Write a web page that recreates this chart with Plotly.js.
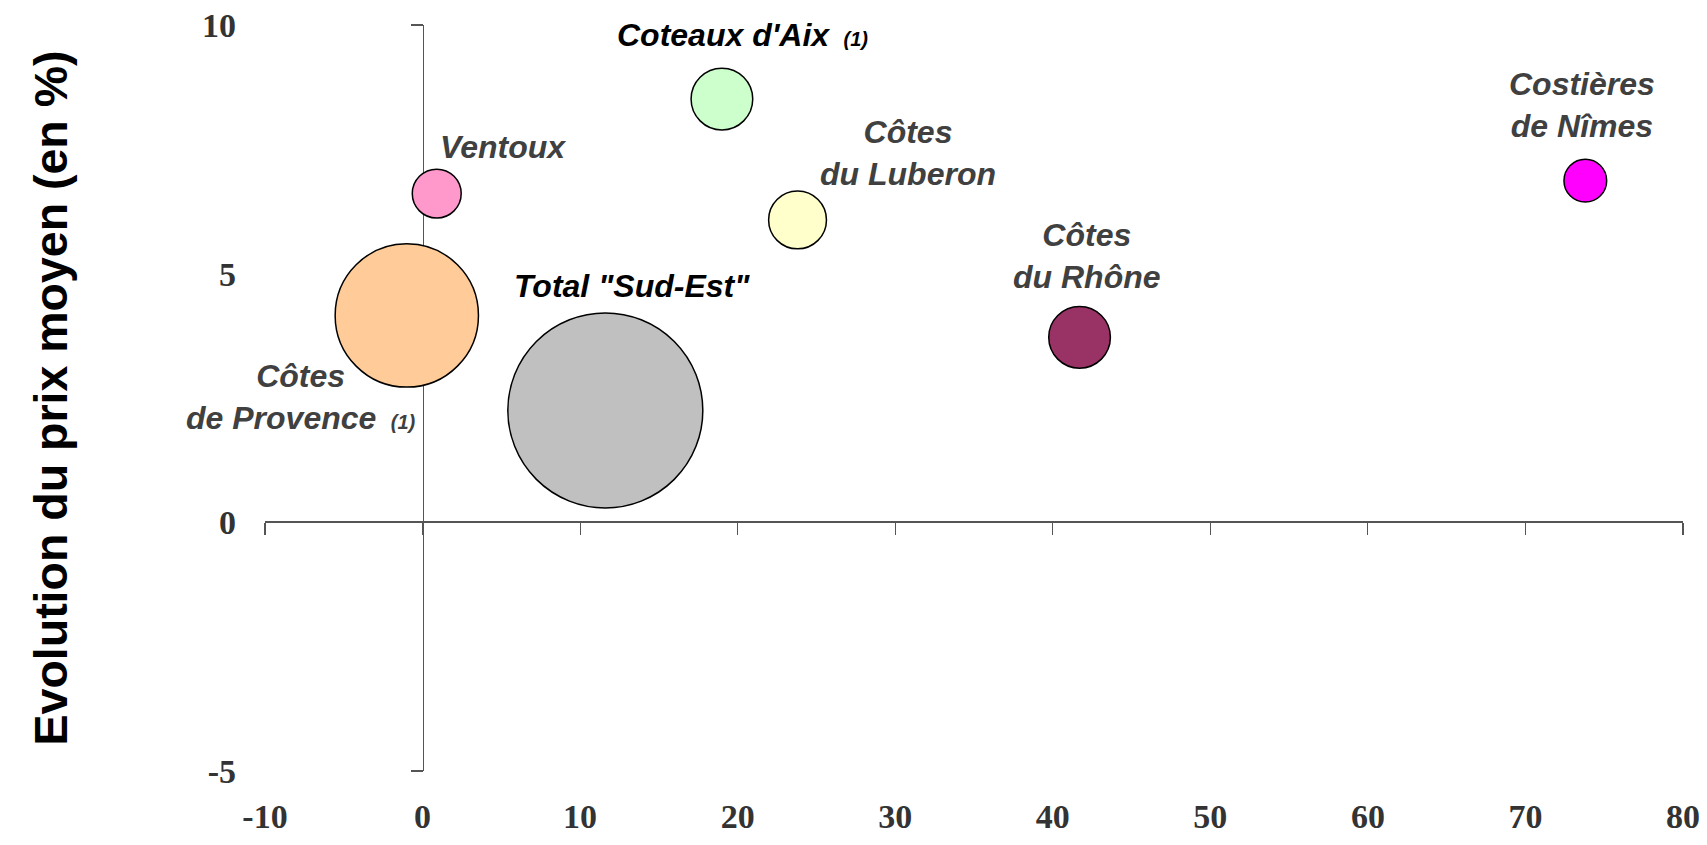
<!DOCTYPE html>
<html>
<head>
<meta charset="utf-8">
<script src="https://cdn.plot.ly/plotly-3.0.1.min.js"></script>
<style>
  html, body { margin: 0; padding: 0; background: #ffffff; }
  #chart { width: 1707px; height: 845px; }
</style>
</head>
<body>
<div id="chart"></div>
<script>
// ---- Data ----
const appellations = ["Côtes<br>de Provence", "Total \"Sud-Est\"", "Ventoux", "Coteaux d'Aix", "Côtes<br>du Luberon", "Côtes<br>du Rhône", "Costières<br>de Nîmes"];
const footnotes   = ["(1)", "", "", "(1)", "", "", ""];
// x: evolution des volumes (en %) ; y: evolution du prix moyen (en %)
const evolVolume  = [-1.0, 11.6, 0.9, 19.0, 23.8, 41.7, 73.8];
const evolPrix    = [4.16, 2.25, 6.61, 8.51, 6.08, 3.72, 6.87];
// bubble size: relative weight (Total "Sud-Est" = 100)
const poids       = [54, 100, 6.3, 10, 8.8, 10, 4.8];
const couleurs    = ["#FFCC99", "#C0C0C0", "#FF99CC", "#CCFFCC", "#FFFFCC", "#993366", "#FF00FF"];
const xTicks      = [-10, 0, 10, 20, 30, 40, 50, 60, 70, 80];
const yTicks      = [-5, 0, 5, 10];
const xRange      = [-10, 80];
const yRange      = [-5, 10];

// ---- Label styling (pixel offsets from the bubble centre) ----
const labelColor = ["#404040", "#000000", "#404040", "#000000", "#404040", "#404040", "#404040"];
const labelDx    = [-106, 27, 66, 21, 110, 7, -3];
const labelDy    = [-82, 124, 47, 64, 67, 81, 76];

const maxDiam = 195;
const sizeref = 2 * Math.max(...poids) / (maxDiam * maxDiam);

const tickFont = { family: "Liberation Serif, Times New Roman, serif", size: 34, color: "#333333", weight: "bold" };

const bubbles = {
  type: "scatter",
  mode: "markers",
  x: evolVolume,
  y: evolPrix,
  text: appellations,
  hoverinfo: "text+x+y",
  cliponaxis: false,
  showlegend: false,
  marker: {
    size: poids,
    sizemode: "area",
    sizeref: sizeref,
    color: couleurs,
    opacity: 1,
    line: { color: "#000000", width: 1.5 }
  }
};

// empty trace so the zero-crossing axes get their own overlaid subplot
const axesHolder = { type: "scatter", x: [], y: [], xaxis: "x2", yaxis: "y2", showlegend: false, hoverinfo: "skip" };

const annotations = appellations.map((name, i) => ({
  x: evolVolume[i],
  y: evolPrix[i],
  xref: "x", yref: "y",
  text: "<i>" + name + (footnotes[i] ? "&nbsp;<span style=\"font-size:20px\">&nbsp;" + footnotes[i] + "</span>" : "") + "</i>",
  showarrow: false,
  xanchor: "center",
  yanchor: "middle",
  align: "center",
  xshift: labelDx[i],
  yshift: labelDy[i],
  font: { family: "Liberation Sans, Arial, sans-serif", size: 32, color: labelColor[i], weight: "bold" }
}));

const xZeroPos = (0 - yRange[0]) / (yRange[1] - yRange[0]);
const yZeroPos = (0 - xRange[0]) / (xRange[1] - xRange[0]);

const layout = {
  width: 1707,
  height: 845,
  margin: { l: 265, r: 24, t: 25, b: 74, pad: 0 },
  paper_bgcolor: "#ffffff",
  plot_bgcolor: "rgba(0,0,0,0)",
  showlegend: false,
  xaxis: {
    range: xRange,
    tickvals: xTicks,
    ticktext: xTicks.map(String),
    showline: false, showgrid: false, zeroline: false,
    ticks: "",
    ticklabelstandoff: 22,
    tickfont: tickFont,
    fixedrange: true
  },
  yaxis: {
    range: yRange,
    tickvals: yTicks,
    ticktext: yTicks.map(String),
    showline: false, showgrid: false, zeroline: false,
    ticks: "",
    ticklabelstandoff: 28,
    tickfont: tickFont,
    fixedrange: true,
    title: {
      text: "Evolution du prix moyen (en %)",
      font: { family: "Liberation Sans, Arial, sans-serif", size: 46.5, color: "#000000", weight: "bold" },
      standoff: 119
    },
    automargin: false
  },
  xaxis2: {
    overlaying: "x",
    anchor: "free",
    position: xZeroPos,
    range: xRange,
    tickvals: xTicks,
    showticklabels: false,
    showline: true, linecolor: "#555555", linewidth: 2,
    ticks: "outside", ticklen: 12, tickwidth: 1.2, tickcolor: "#555555",
    showgrid: false, zeroline: false,
    layer: "below traces",
    fixedrange: true
  },
  yaxis2: {
    overlaying: "y",
    anchor: "free",
    position: yZeroPos,
    range: yRange,
    tickvals: yTicks,
    showticklabels: false,
    showline: true, linecolor: "#555555", linewidth: 1.3,
    ticks: "outside", ticklen: 12, tickwidth: 1.2, tickcolor: "#555555",
    showgrid: false, zeroline: false,
    layer: "below traces",
    fixedrange: true
  },
  annotations: annotations
};

Plotly.newPlot("chart", [axesHolder, bubbles], layout, { displayModeBar: false, staticPlot: true });
</script>
</body>
</html>
